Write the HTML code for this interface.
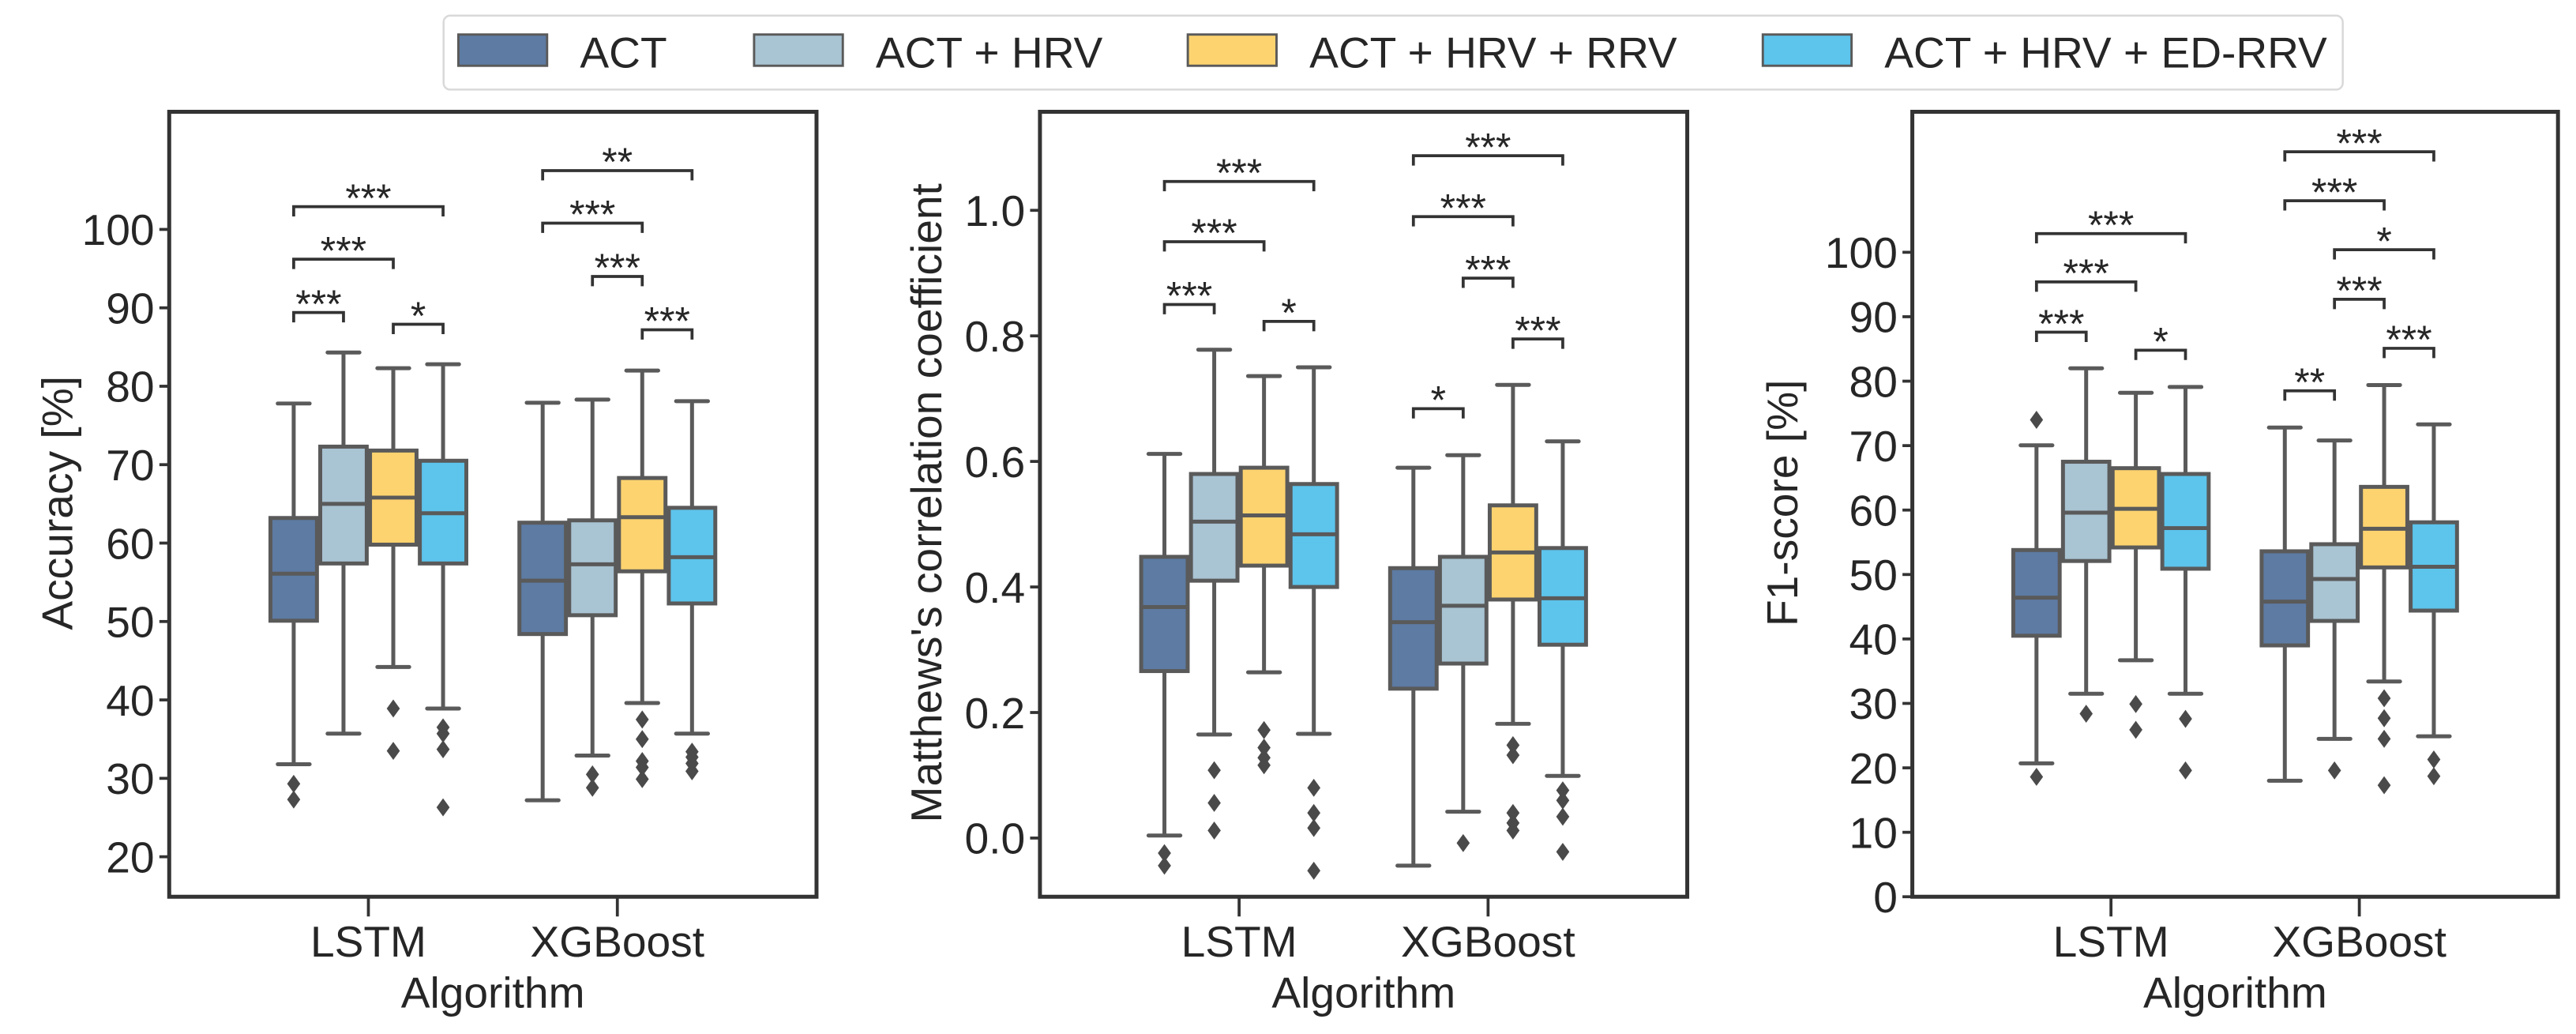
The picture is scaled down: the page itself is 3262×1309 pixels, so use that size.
<!DOCTYPE html>
<html><head><meta charset="utf-8"><style>
html,body{margin:0;padding:0;background:#fff;}
svg{display:block;font-family:"Liberation Sans",sans-serif;}
</style></head><body>
<svg id="chart" width="3262" height="1309" viewBox="0 0 3262 1309" xmlns="http://www.w3.org/2000/svg">
<rect width="3262" height="1309" fill="#fff"/>
<g id="root" transform="scale(2.0804,2.0811)"></g>
</svg>
<script>
const categories = ["LSTM", "XGBoost"];
const seriesNames = ["ACT", "ACT + HRV", "ACT + HRV + RRV", "ACT + HRV + ED-RRV"];
const seriesColors = ["#5d7ba3", "#a9c4d3", "#fdd36f", "#5dc4ec"];

// [low whisker, Q1, median, Q3, high whisker] ; order LSTM x4, XGBoost x4
const accStats = [[31.8,50.1,56.1,63.2,77.8],[35.7,57.4,65.0,72.3,84.3],[44.2,59.8,65.8,71.8,82.3],[38.9,57.4,63.8,70.5,82.8],
                  [27.2,48.4,55.2,62.6,77.9],[32.9,50.8,57.3,62.9,78.3],[39.6,56.4,63.3,68.3,82.0],[35.7,52.3,58.2,64.5,78.1]];
const accOutliers = [[29.3,27.3],[],[38.9,33.5],[36.5,35.7,33.7,26.3],[],[30.5,28.8],[37.5,35.0,32.2,31.4,29.9],[33.4,32.7,31.9,30.9]];
// [category, from series, to series, bar level, label]
const accBrackets = [[0,0,1,89.4,"***"],[0,0,2,96.2,"***"],[0,0,3,102.9,"***"],[0,2,3,87.9,"*"],
                     [1,1,2,94.0,"***"],[1,2,3,87.2,"***"],[1,0,2,100.8,"***"],[1,0,3,107.5,"**"]];
const accTicks = [20,30,40,50,60,70,80,90,100];

const mccStats = [[0.004,0.266,0.368,0.448,0.612],[0.165,0.41,0.504,0.58,0.778],[0.264,0.434,0.514,0.59,0.736],[0.166,0.40,0.484,0.564,0.75],
                  [-0.044,0.238,0.344,0.43,0.59],[0.042,0.278,0.37,0.448,0.61],[0.182,0.38,0.455,0.53,0.722],[0.099,0.308,0.382,0.462,0.632]];
const mccOutliers = [[-0.024,-0.044],[0.108,0.056,0.012],[0.172,0.144,0.128,0.116],[0.08,0.04,0.016,-0.052],[],[-0.008],[0.148,0.132,0.04,0.024,0.012],[0.076,0.06,0.034,-0.022]];
const mccBrackets = [[0,0,1,0.85,"***"],[0,0,2,0.95,"***"],[0,0,3,1.046,"***"],[0,2,3,0.823,"*"],
                     [1,0,1,0.684,"*"],[1,1,2,0.892,"***"],[1,0,2,0.99,"***"],[1,2,3,0.795,"***"],[1,0,3,1.087,"***"]];
const mccTicks = [0.0,0.2,0.4,0.6,0.8,1.0];

const f1Stats = [[20.7,40.5,46.4,53.8,70.05],[31.5,52.1,59.6,67.5,82.0],[36.7,54.2,60.2,66.5,78.2],[31.5,50.9,57.2,65.6,79.1],
                 [18.0,39.0,45.8,53.6,72.8],[24.5,42.8,49.3,54.7,70.8],[33.4,51.1,57.1,63.6,79.4],[24.9,44.4,51.2,58.1,73.3]];
const f1Outliers = [[74.0,18.6],[28.4],[29.9,25.9],[27.6,19.6],[],[19.6],[30.8,27.7,24.5,17.3],[21.3,18.7]];
const f1Brackets = [[0,0,1,87.6,"***"],[0,0,2,95.4,"***"],[0,0,3,102.9,"***"],[0,2,3,84.8,"*"],
                    [1,0,1,78.5,"**"],[1,1,2,92.7,"***"],[1,1,3,100.4,"*"],[1,2,3,85.1,"***"],[1,0,2,108.0,"***"],[1,0,3,115.6,"***"]];
const f1Ticks = [0,10,20,30,40,50,60,70,80,90,100];

const NS = "http://www.w3.org/2000/svg";
const root = document.getElementById("root");
function mk(tag, attrs, parent){ const e=document.createElementNS(NS,tag); for(const k in attrs) e.setAttribute(k,attrs[k]); (parent||root).appendChild(e); return e; }

function panel(cfg){
  const g = mk("g",{});
  
  
  const L=cfg.x0, R=cfg.x1, T=68, B=545.5;
  const y = v => B - (v - cfg.dmin)/(cfg.dmax - cfg.dmin)*(B-T);
  const catW = (R-L)/2.6;
  const cx = c => L + (R-L)/2 + (c-0.5)*catW;
  const bw = catW*0.8/4;
  const bx = (c,s) => cx(c) + (s-1.5)*bw;
  cfg.ticks.forEach(t=>{
    const tl = mk("line",{x1:L-6,x2:L,y1:y(t),y2:y(t),stroke:"#333","stroke-width":1.8},g);
    
    
    const tx = mk("text",{x:L-9,y:y(t)+9.5,"text-anchor":"end","font-size":26.5,fill:"#262626"},g);
    tx.textContent = cfg.fmt(t);
    
    
  });
  cfg.stats.forEach((st,i)=>{
    const c=Math.floor(i/4), s=i%4, x=bx(c,s);
    const bg = mk("g",{},g);
    
    
    const lw=2.4, col="#5a5a5a", cap=bw*0.32;
    mk("line",{x1:x,x2:x,y1:y(st[0]),y2:y(st[1]),stroke:col,"stroke-width":lw},bg);
    mk("line",{x1:x,x2:x,y1:y(st[3]),y2:y(st[4]),stroke:col,"stroke-width":lw},bg);
    mk("line",{x1:x-cap,x2:x+cap,y1:y(st[0]),y2:y(st[0]),stroke:col,"stroke-width":lw,"stroke-linecap":"round"},bg);
    mk("line",{x1:x-cap,x2:x+cap,y1:y(st[4]),y2:y(st[4]),stroke:col,"stroke-width":lw,"stroke-linecap":"round"},bg);
    mk("rect",{x:x-bw/2+1,y:y(st[3]),width:bw-2,height:y(st[1])-y(st[3]),fill:seriesColors[s],stroke:col,"stroke-width":lw},bg);
    mk("line",{x1:x-bw/2+1,x2:x+bw/2-1,y1:y(st[2]),y2:y(st[2]),stroke:col,"stroke-width":lw},bg);
    cfg.outliers[i].forEach(o=>{
      const d = mk("path",{d:`M${x} ${y(o)-5.5}L${x+4} ${y(o)}L${x} ${y(o)+5.5}L${x-4} ${y(o)}Z`,fill:"#4a4a4a"},bg);
      
      
    });
  });
  const hh = (cfg.dmax-cfg.dmin)*0.0125;
  cfg.brackets.forEach(b=>{
    const xa=bx(b[0],b[1]), xb=bx(b[0],b[2]), yy=y(b[3]), yl=y(b[3]-hh);
    const p = mk("path",{d:`M${xa} ${yl}L${xa} ${yy}L${xb} ${yy}L${xb} ${yl}`,fill:"none",stroke:"#333","stroke-width":1.8},g);
    
    
    const t = mk("text",{x:(xa+xb)/2,y:yy+3,"text-anchor":"middle","font-size":24,fill:"#262626"},g);
    t.textContent=b[4];
    
    
  });
  const fr = mk("rect",{x:L,y:T,width:R-L,height:B-T,fill:"none",stroke:"#333","stroke-width":2.4},g);
  
  
  categories.forEach((cn,c)=>{
    mk("line",{x1:cx(c),x2:cx(c),y1:B,y2:B+12,stroke:"#333","stroke-width":1.8},g);
    const t = mk("text",{x:cx(c),y:582,"text-anchor":"middle","font-size":26.5,fill:"#262626"},g);
    t.textContent=cn;
    
    
  });
  const xl = mk("text",{x:(L+R)/2,y:613,"text-anchor":"middle","font-size":26.5,fill:"#262626"},g);
  xl.textContent="Algorithm";
  
  
  const yl = mk("text",{x:0,y:0,"text-anchor":"middle","font-size":26.5,fill:"#262626",transform:`translate(${cfg.ylx},${cfg.yly}) rotate(-90)`},g);
  yl.textContent=cfg.ylabel;
  
  
}

panel({name:"accuracy-panel",x0:103,x1:497,dmin:14.9,dmax:115.0,ticks:accTicks,fmt:t=>String(t),stats:accStats,outliers:accOutliers,brackets:accBrackets,ylabel:"Accuracy [%]",ylx:44,yly:306});
panel({name:"mcc-panel",x0:633,x1:1027,dmin:-0.0935,dmax:1.157,ticks:mccTicks,fmt:t=>t.toFixed(1),stats:mccStats,outliers:mccOutliers,brackets:mccBrackets,ylabel:"Matthews's correlation coefficient",ylx:573,yly:306});
panel({name:"f1-panel",x0:1164,x1:1557,dmin:0,dmax:121.8,ticks:f1Ticks,fmt:t=>String(t),stats:f1Stats,outliers:f1Outliers,brackets:f1Brackets,ylabel:"F1-score [%]",ylx:1094,yly:306});

const lg = mk("g",{});


mk("rect",{x:270,y:9.5,width:1156,height:45,rx:4,fill:"#fff",stroke:"#d9d9d9","stroke-width":1.2},lg);
const patchX=[279,459,723,1073];
seriesNames.forEach((n,i)=>{
  const e = mk("g",{},lg);
  
  
  mk("rect",{x:patchX[i],y:21,width:54,height:19,fill:seriesColors[i],stroke:"#5a5a5a","stroke-width":1.4},e);
  const t = mk("text",{x:patchX[i]+74,y:41,"font-size":26.5,fill:"#262626"},e);
  t.textContent=n;
});
</script>
</body></html>
